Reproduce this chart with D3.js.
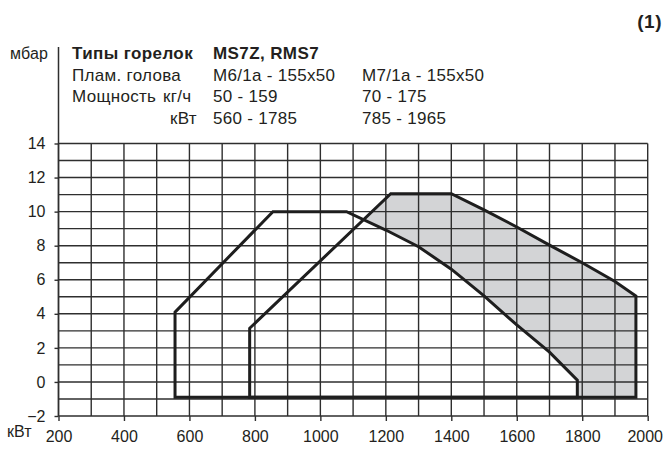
<!DOCTYPE html>
<html><head><meta charset="utf-8">
<script src="https://cdn.jsdelivr.net/npm/d3@7/dist/d3.min.js"></script>
<style>
body{margin:0;background:#fff;}
svg text{font-family:"Liberation Sans",Arial,sans-serif;fill:#231f20;}
</style></head>
<body><div id="chart"></div>
<script>
// Data
const xTickLabels = [200, 400, 600, 800, 1000, 1200, 1400, 1600, 1800, 2000];
const yTickLabels = [-2, 0, 2, 4, 6, 8, 10, 12, 14];
// Head M6/1a working field (kW, mbar)
const headM6 = [[556,-0.9],[556,4.1],[855,10],[1080,10],[1200,8.92],[1300,7.94],[1400,6.62],[1500,5.05],[1600,3.35],[1700,1.75],[1785,0.1],[1785,-0.9]];
// Head M7/1a working field (kW, mbar)
const headM7 = [[784,-0.9],[784,3.15],[1215,11.05],[1400,11.05],[1500,10.1],[1600,9.1],[1700,8.03],[1800,7.0],[1900,5.9],[1964,5.05],[1964,-0.9]];
const headerRows = [
  ["Плам. голова", "", "M6/1a - 155x50", "M7/1a - 155x50"],
  ["Мощность", "кг/ч", "50 - 159", "70 - 175"],
  ["", "кВт", "560 - 1785", "785 - 1965"]
];

const W = 664, H = 450;
const svg = d3.select("#chart").append("svg").attr("width", W).attr("height", H)
  .style("background", "#fff");

const x = d3.scaleLinear().domain([200, 2000]).range([58.5, 647.7]);
const y = d3.scaleLinear().domain([-2, 14]).range([416, 143.5]);

const line = d3.line().x(d => x(d[0])).y(d => y(d[1]));

// Fill: M7 field minus M6 field
svg.append("path").attr("d", line(headM7) + "Z").attr("fill", "#d3d4d6");
svg.append("path").attr("d", line(headM6) + "Z").attr("fill", "#fff");

// Grid
const grid = svg.append("g").attr("stroke", "#2e2e2e").attr("stroke-width", 1.4);
grid.selectAll(".v").data(d3.range(200, 2001, 100)).join("line")
  .attr("x1", d => x(d)).attr("x2", d => x(d)).attr("y1", y(14)).attr("y2", y(-2));
grid.selectAll(".h").data(d3.range(-2, 14.1, 1)).join("line")
  .attr("x1", x(200)).attr("x2", x(2000)).attr("y1", d => y(d)).attr("y2", d => y(d));

// Left axis line extending into header
svg.append("line").attr("x1", x(200)).attr("x2", x(200)).attr("y1", 47).attr("y2", y(-2))
  .attr("stroke", "#2e2e2e").attr("stroke-width", 1.5);

// Axes
const xAxis = svg.append("g").attr("transform", `translate(0,${y(-2)})`)
  .call(d3.axisBottom(x).tickValues(xTickLabels).tickFormat(d3.format("d")).tickSize(5).tickPadding(10));
const yAxis = svg.append("g").attr("transform", `translate(${x(200)},0)`)
  .call(d3.axisLeft(y).tickValues(yTickLabels).tickFormat(d3.format("d")).tickSize(4).tickPadding(9));
[xAxis, yAxis].forEach(a => {
  a.select(".domain").remove();
  a.selectAll(".tick line").attr("stroke", "#2e2e2e").attr("stroke-width", 1.4);
  a.selectAll(".tick text").attr("font-size", 16).attr("font-family", "Liberation Sans, Arial, sans-serif").attr("fill", "#231f20");
});
xAxis.selectAll(".tick text").filter(d => d === 2000).attr("dx", -3);

// Outlines
[headM6, headM7].forEach(pts => {
  svg.append("path").attr("d", line(pts) + "Z").attr("fill", "none")
    .attr("stroke", "#1e1e1e").attr("stroke-width", 3).attr("stroke-linejoin", "miter");
});

// Texts
const t = (tx, ty, s, opts = {}) => svg.append("text").attr("x", tx).attr("y", ty)
  .attr("font-size", opts.size || 17).attr("font-weight", opts.bold ? "bold" : "normal")
  .attr("letter-spacing", opts.ls != null ? opts.ls : 0.3)
  .attr("text-anchor", opts.anchor || "start").text(s);

t(662, 28, "(1)", {bold: true, size: 19, anchor: "end", ls: 0.5});
t(10, 59, "мбар", {size: 16, ls: 0.2});
t(72, 59, "Типы горелок", {bold: true, ls: 0.4});
t(213, 59, "MS7Z, RMS7", {bold: true, ls: 0.4});
const cols = [72, 163, 213, 362];
headerRows.forEach((r, i) => {
  const by = 80.5 + i * 21.5;
  r.forEach((s, j) => { if (s) t(j === 1 && s === "кВт" ? 170 : cols[j], by, s); });
});
t(7, 437, "кВт", {size: 16, ls: 0});
</script></body></html>
